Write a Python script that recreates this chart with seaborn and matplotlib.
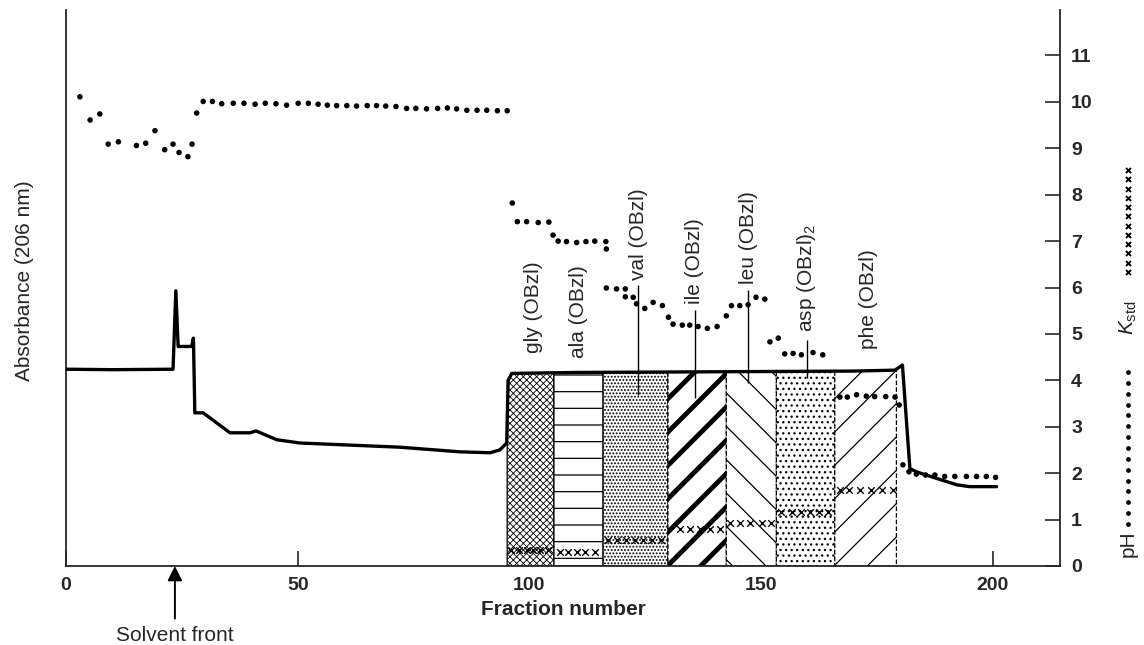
import numpy as np
import pandas as pd
import matplotlib
matplotlib.use("Agg")
import matplotlib.pyplot as plt
from matplotlib.lines import Line2D
import seaborn as sns

# absorbance trace, drawn on the pH scale (left axis carries no numbers)
abs_frac = [0, 10, 23.1, 23.7, 24.2, 27.1, 27.5, 27.8, 29.6, 35.4, 39.7, 41.0, 45.5,
            50.5, 72, 85, 91.5, 93.6, 95.1, 95.4, 96.2, 110, 130, 150, 170, 178.9,
            180.5, 182.1, 183.5, 187.8, 192.2, 195, 200.8]
abs_val = [4.24, 4.23, 4.24, 5.93, 4.73, 4.73, 4.91, 3.30, 3.30, 2.87, 2.87, 2.91, 2.72,
           2.65, 2.56, 2.46, 2.44, 2.50, 2.65, 4.00, 4.15, 4.17, 4.18, 4.19, 4.20, 4.22,
           4.33, 2.10, 2.03, 1.89, 1.75, 1.71, 1.71]

# pH of the fractions
ph_frac = [3.0, 5.2, 7.3, 9.1, 11.3, 15.2, 17.2, 19.2, 21.3, 23.1, 24.4, 26.3, 27.2,
           28.2, 29.6, 31.6, 33.6, 36.1, 38.4, 40.8, 43.0, 45.3, 47.6, 50.1, 52.3,
           54.4, 56.4, 58.4, 60.6, 62.7, 65.0, 67.0, 69.0, 71.2, 73.5, 75.5, 77.8,
           80.2, 82.3, 84.3, 86.5, 88.7, 90.8, 93.1, 95.2,
           96.3, 97.4, 99.4, 101.9, 104.2, 105.1, 106.2, 108.0, 110.2, 112.2, 114.1,
           116.5, 116.6, 116.6, 118.8, 120.7, 120.7, 122.4, 123.1, 124.9, 126.7,
           128.7, 130.0, 131.0, 133.0, 134.6, 136.4, 138.4, 140.5, 142.5, 143.6,
           145.4, 147.2, 148.9, 150.8, 151.9, 153.7, 155.1, 156.9, 158.7, 161.2,
           163.3, 167.0, 168.6, 170.6, 172.7, 174.5, 176.9, 178.9, 179.8, 180.6,
           181.9, 183.5, 185.5, 187.5, 189.6, 191.8, 194.3, 196.5, 198.6, 200.6]
ph_val = [10.11, 9.61, 9.74, 9.09, 9.14, 9.06, 9.11, 9.38, 8.97, 9.09, 8.91, 8.82, 9.09,
          9.76, 10.01, 10.01, 9.96, 9.97, 9.97, 9.95, 9.97, 9.96, 9.93, 9.97, 9.97,
          9.95, 9.93, 9.92, 9.92, 9.91, 9.92, 9.92, 9.91, 9.90, 9.86, 9.86, 9.85,
          9.86, 9.87, 9.85, 9.82, 9.82, 9.82, 9.81, 9.81,
          7.82, 7.42, 7.42, 7.40, 7.41, 7.13, 7.00, 6.99, 6.97, 6.99, 7.00,
          6.99, 6.83, 5.99, 5.97, 5.97, 5.80, 5.79, 5.65, 5.55, 5.68,
          5.61, 5.36, 5.21, 5.19, 5.19, 5.16, 5.12, 5.16, 5.39, 5.61,
          5.61, 5.63, 5.79, 5.75, 4.83, 4.91, 4.57, 4.58, 4.55, 4.60,
          4.55, 3.64, 3.64, 3.69, 3.66, 3.65, 3.65, 3.64, 3.47, 2.18,
          2.03, 1.98, 1.96, 1.96, 1.93, 1.93, 1.93, 1.93, 1.93, 1.91]

# K_std of the fractions
k_frac = [96.1, 97.8, 99.4, 100.8, 102.3, 104.1,
          106.6, 108.4, 110.2, 112.0, 114.1,
          117.0, 118.9, 120.8, 122.7, 124.6, 126.5, 128.4,
          132.5, 134.6, 136.8, 138.9, 141.1,
          143.3, 145.4, 147.6, 150.1, 152.2,
          154.4, 156.6, 158.7, 160.5, 162.5, 164.5,
          167.0, 169.0, 171.3, 173.7, 176.0, 178.5]
k_val = [0.34] * 6 + [0.31] * 5 + [0.57] * 7 + [0.80] * 5 + [0.92] * 5 + [1.17] * 6 + [1.64] * 6

# eluted compounds
region_start = [95.2, 105.3, 115.9, 129.9, 142.5, 153.3, 165.9]
region_end = [105.3, 115.9, 129.9, 142.5, 153.3, 165.9, 179.2]
region_label = ["gly (OBzl)", "ala (OBzl)", "val (OBzl)", "ile (OBzl)",
                "leu (OBzl)", "asp (OBzl)$_2$", "phe (OBzl)"]

sns.set_theme(style="ticks")
plt.rcParams['font.family'] = ['Liberation Sans', 'DejaVu Sans']
plt.rcParams['mathtext.fontset'] = 'custom'
plt.rcParams['mathtext.rm'] = 'Liberation Sans'
plt.rcParams['mathtext.it'] = 'Liberation Sans:italic'

fig = plt.figure(figsize=(11.44, 6.45), dpi=100)
ax = fig.add_axes([66 / 1144, 1 - 566 / 645, (1060 - 66) / 1144, (566 - 10) / 645])

# hatched compound bands underneath the trace
hatches = ['xxxxx', '-', '.....', '/', '\\', '...', '/']
styles = ['-', '-', '-', '--', '--', '--', '--']
hatch_lw = [0.6, 0.9, 0.9, 3.5, 0.9, 0.9, 0.9]
for i in range(len(region_start)):
    xs = np.linspace(region_start[i], region_end[i], 30)
    top = np.interp(xs, abs_frac, abs_val)
    plt.rcParams['hatch.linewidth'] = hatch_lw[i]
    pc = ax.fill_between(xs, 0, top, facecolor='white', edgecolor='black',
                         hatch=hatches[i], linewidth=0.9, linestyle=styles[i], zorder=1)
    if hasattr(pc, 'set_hatch_linewidth'):
        pc.set_hatch_linewidth(hatch_lw[i])
plt.rcParams['hatch.linewidth'] = 1.0

df_abs = pd.DataFrame({'frac': abs_frac, 'val': abs_val})
sns.lineplot(data=df_abs, x='frac', y='val', sort=False, estimator=None,
             color='black', linewidth=2.4, ax=ax, zorder=3)

df_ph = pd.DataFrame({'frac': ph_frac, 'val': ph_val})
sns.scatterplot(data=df_ph, x='frac', y='val', marker='o', s=16, color='black',
                edgecolor='none', ax=ax, zorder=4)

df_k = pd.DataFrame({'frac': k_frac, 'val': k_val})
sns.scatterplot(data=df_k, x='frac', y='val', marker='x', s=22, color='black',
                linewidth=1.0, ax=ax, zorder=4)

# compound labels with leader lines
label_x = [100.9, 110.5, 123.5, 135.7, 147.2, 159.8, 173.1]
label_y = [4.59, 4.48, 6.16, 5.65, 6.08, 5.04, 4.68]
for lx, ly, txt in zip(label_x, label_y, region_label):
    ax.text(lx, ly, txt, rotation=90, ha='center', va='bottom', fontsize=15, zorder=5)
ax.vlines([123.5, 135.7, 147.2, 159.8], [3.69, 3.62, 3.94, 4.05],
          [6.05, 5.52, 5.95, 4.87], color='black', linewidth=1.0, zorder=5)

ax.set_xlim(0, 214.5)
ax.set_ylim(0, 11.98)
ax.set_xticks([0, 50, 100, 150, 200])
ax.set_yticks(range(0, 12))
ax.yaxis.tick_right()
ax.tick_params(axis='both', direction='in', length=11, width=1.2, labelsize=14, pad=8)
ax.tick_params(axis='y', left=False, labelleft=False, right=True, labelright=True)
for lab in ax.get_xticklabels() + ax.get_yticklabels():
    lab.set_fontweight('bold')
for side in ['left', 'bottom', 'right']:
    ax.spines[side].set_linewidth(1.3)
ax.spines['top'].set_visible(False)

ax.set_xlabel("Fraction number", fontsize=15, fontweight='bold', labelpad=4)
ax.set_ylabel("")
fig.text(25 / 1144, 1 - 281 / 645, "Absorbance (206 nm)", rotation=90,
         ha='center', va='center', fontsize=15)

ax.annotate("Solvent front", xy=(23.5, 0), xycoords='data',
            xytext=(0, -50), textcoords='offset points', ha='center', va='center',
            fontsize=15, annotation_clip=False,
            arrowprops=dict(arrowstyle='-|>', color='black', lw=1.4,
                            mutation_scale=22, shrinkA=3, shrinkB=0))

# rotated key on the right
kx = 1128 / 1144
fig.text(kx, 1 - 557 / 645, "pH", rotation=90, ha='center', va='bottom', fontsize=15)
fig.add_artist(Line2D([kx] * 15, np.linspace(1 - 524 / 645, 1 - 372 / 645, 15),
                      transform=fig.transFigure, linestyle='none', marker='o',
                      markersize=2.4, color='black'))
fig.text(kx, 1 - 335 / 645, r"$K_{\mathrm{std}}$", rotation=90, ha='center',
         va='bottom', fontsize=15)
fig.add_artist(Line2D([kx] * 12, np.linspace(1 - 272 / 645, 1 - 170 / 645, 12),
                      transform=fig.transFigure, linestyle='none', marker='x',
                      markersize=3.6, markeredgewidth=1.4, color='black'))

fig.savefig("out.png", dpi=100)
